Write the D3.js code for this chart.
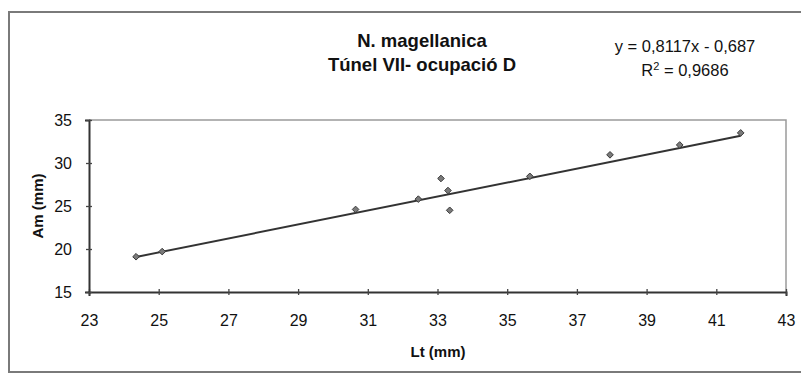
<!DOCTYPE html>
<html>
<head>
<meta charset="utf-8">
<script src="https://cdn.jsdelivr.net/npm/d3@7"></script>
<style>
  html, body { margin: 0; padding: 0; background: #fff; }
  svg { display: block; font-family: "Liberation Sans", Arial, sans-serif; }
</style>
</head>
<body>
<svg id="chart" width="801" height="374"></svg>
<script>
// Shell length (Lt) vs. shell width (Am), in mm
const lt = [24.35, 25.1, 30.65, 32.45, 33.3, 33.1, 33.35, 35.65, 37.95, 39.95, 41.7];
const am = [19.1, 19.7, 24.6, 25.8, 26.8, 28.2, 24.5, 28.45, 30.95, 32.1, 33.5];
// Linear fit reported for the sample
const slope = 0.8117;
const intercept = -0.687;
const xTicks = [23, 25, 27, 29, 31, 33, 35, 37, 39, 41, 43];
const yTicks = [15, 20, 25, 30, 35];
const titleLines = ["N. magellanica", "Túnel VII- ocupació D"];

const svg = d3.select("#chart");
const plot = { left: 89, right: 786, top: 120, bottom: 292 };

const x = d3.scaleLinear().domain([23, 43]).range([plot.left, plot.right]);
const y = d3.scaleLinear().domain([15, 35]).range([plot.bottom, plot.top]);

// outer chart frame
svg.append("rect")
  .attr("x", 9).attr("y", 12).attr("width", 800).attr("height", 360)
  .attr("fill", "none").attr("stroke", "#7a7a7a").attr("stroke-width", 2);

// plot area frame (top and right sides)
svg.append("path")
  .attr("d", `M${plot.left},${plot.top}H${plot.right}V${plot.bottom}`)
  .attr("fill", "none").attr("stroke", "#9a9a9a").attr("stroke-width", 1.5);

// axes
const xAxis = svg.append("g").attr("transform", `translate(0,${plot.bottom})`)
  .call(d3.axisBottom(x).tickValues(xTicks).tickSize(4).tickFormat(d3.format("d")));
const yAxis = svg.append("g").attr("transform", `translate(${plot.left},0)`)
  .call(d3.axisLeft(y).tickValues(yTicks).tickSize(4).tickPadding(13).tickFormat(d3.format("d")));

[xAxis, yAxis].forEach(g => {
  g.select(".domain").attr("stroke", "#333").attr("stroke-width", 2);
  g.selectAll(".tick line").attr("stroke", "#444").attr("stroke-width", 1.3);
  g.selectAll(".tick text").attr("fill", "#111").style("font-size", "16px");
});
// ticks cross the axis line
xAxis.selectAll(".tick line").attr("y1", -3).attr("y2", 3);
yAxis.selectAll(".tick line").attr("x1", -3).attr("x2", 3);
xAxis.selectAll(".tick text").attr("dy", "0.71em").attr("y", 23);

// trend line across the data range
const x0 = d3.min(lt), x1 = d3.max(lt);
svg.append("line")
  .attr("x1", x(x0)).attr("y1", y(slope * x0 + intercept))
  .attr("x2", x(x1)).attr("y2", y(slope * x1 + intercept))
  .attr("stroke", "#333").attr("stroke-width", 2);

// data markers (diamonds)
const diamond = d3.symbol().type(d3.symbolDiamond2).size(28);
svg.append("g").selectAll("path")
  .data(lt.map((v, i) => [v, am[i]]))
  .join("path")
  .attr("d", diamond)
  .attr("transform", d => `translate(${x(d[0])},${y(d[1])})`)
  .attr("fill", "#7a7a7a")
  .attr("stroke", "#3a3a3a").attr("stroke-width", 1);

// title
svg.append("text")
  .attr("text-anchor", "middle")
  .style("font-size", "18.5px").style("font-weight", "bold").attr("fill", "#111")
  .selectAll("tspan").data(titleLines).join("tspan")
  .attr("x", 422).attr("y", (d, i) => 47 + i * 24).text(d => d);

// regression equation
const eq = svg.append("g").attr("fill", "#111").style("font-size", "16.5px");
eq.append("text").attr("x", 685).attr("y", 52).attr("text-anchor", "middle")
  .text("y = 0,8117x - 0,687");
const r2 = eq.append("text").attr("x", 685).attr("y", 76).attr("text-anchor", "middle");
r2.append("tspan").text("R");
r2.append("tspan").attr("dy", -6).style("font-size", "11px").text("2");
r2.append("tspan").attr("dy", 6).text(" = 0,9686");

// axis titles
svg.append("text")
  .attr("x", 438).attr("y", 357).attr("text-anchor", "middle")
  .style("font-size", "15px").style("font-weight", "bold").attr("fill", "#111")
  .text("Lt (mm)");
svg.append("text")
  .attr("transform", "translate(43,206) rotate(-90)").attr("text-anchor", "middle")
  .style("font-size", "15px").style("font-weight", "bold").attr("fill", "#111")
  .text("Am (mm)");
</script>
</body>
</html>
